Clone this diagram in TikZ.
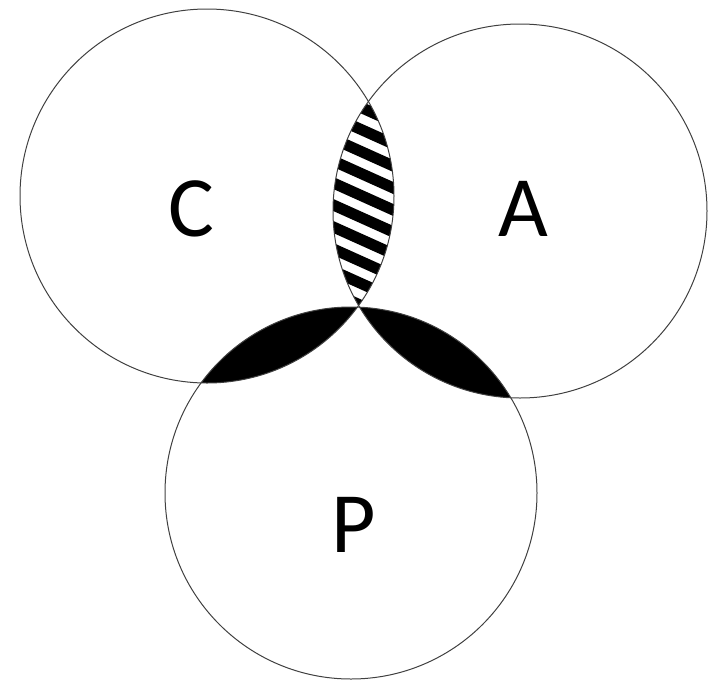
\documentclass[tikz,border=0pt]{standalone}
\usepackage{fontspec}
\setmainfont{Carlito}
\usepackage{tikz}
\usetikzlibrary{positioning}

\begin{document}
\begin{tikzpicture}[x=1pt, y=-1pt,
    ring/.style={draw=black!75, line width=1pt},
    lbl/.style={inner sep=0pt, font=\fontsize{86}{86}\selectfont},
    stripe/.style={line width=11pt, black}]
  \useasboundingbox (0,0) rectangle (712,683);
  \coordinate (oC) at (207,196);
  \coordinate (oA) at (520,211);
  \coordinate (oP) at (351,493);
  % C and A: hatched
  \begin{scope}
    \clip (oC) circle[radius=187];
    \clip (oA) circle[radius=187];
    \foreach \k in {-8,...,8}
      \draw[stripe] (300,190+\k*22) -- ++(160,72);
  \end{scope}
  % C and P, A and P: solid
  \begin{scope}
    \clip (oP) circle[radius=186];
    \fill[black] (oC) circle[radius=187];
    \fill[black] (oA) circle[radius=187];
  \end{scope}
  % Circles
  \draw[ring] (oC) circle[radius=187];
  \draw[ring] (oA) circle[radius=187];
  \draw[ring] (oP) circle[radius=186];
  % Labels
  \node[lbl] (lblC) at (191,209) {C};
  \node[lbl] (lblA) at (523,209) {A};
  \node[lbl] (lblP) at (354,525) {P};
\end{tikzpicture}
\end{document}
